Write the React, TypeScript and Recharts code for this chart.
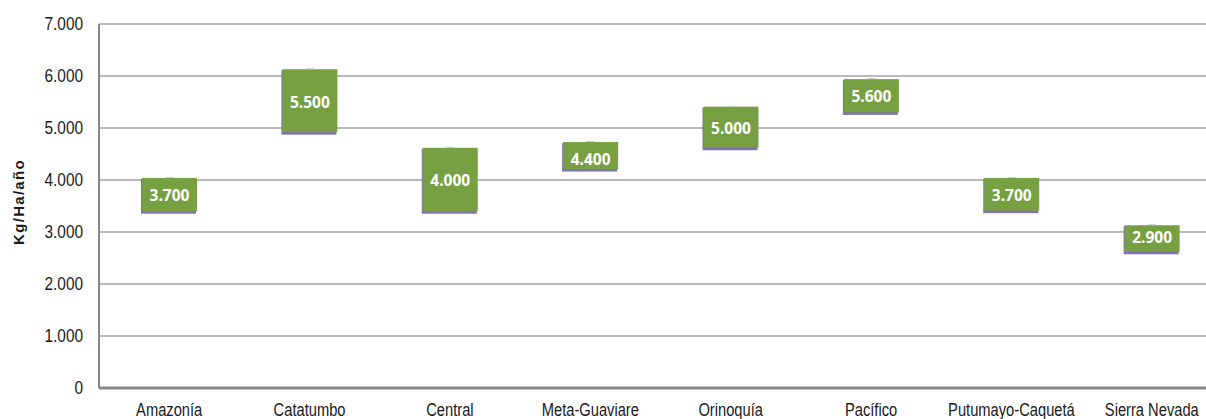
import React from "react";
import { BarChart, Bar, XAxis, YAxis, CartesianGrid } from "recharts";

const regions = [
  "Amazonía",
  "Catatumbo",
  "Central",
  "Meta-Guaviare",
  "Orinoquía",
  "Pacífico",
  "Putumayo-Caquetá",
  "Sierra Nevada",
];
const lowValues = [3400, 4920, 3400, 4210, 4620, 5300, 3410, 2620];
const highValues = [4040, 6130, 4620, 4730, 5410, 5940, 4040, 3130];
const labelValues = [3700, 5500, 4000, 4400, 5000, 5600, 3700, 2900];
const yTicks = [0, 1000, 2000, 3000, 4000, 5000, 6000, 7000];

const data = regions.map((r, i) => ({
  name: r,
  range: [lowValues[i], highValues[i]],
  label: labelValues[i],
  low: lowValues[i],
  high: highValues[i],
}));

const fmt = (v: number) =>
  v === 0 ? "0" : String(v).replace(/\B(?=(\d{3})+(?!\d))/g, ".");

const GREEN = "#77A043";
const PURPLE = "#6B5CA5";
const TICK_FONT = "'Liberation Sans', Arial, sans-serif";

const RangeShape = (props: any) => {
  const { x, y, width, height, payload } = props;
  if (height == null || width == null) return null;
  const { low, high, label } = payload;
  const ly = y + ((high - label) / (high - low)) * height;
  return (
    <g>
      <rect x={x - 1} y={y + 1} width={width} height={height + 1.5} fill={PURPLE} opacity={0.85} />
      <rect x={x} y={y} width={width} height={height} fill={GREEN} />
      <line x1={x + width / 2 - 4} x2={x + width / 2 + 4} y1={y - 0.5} y2={y - 0.5} stroke="#C8C8C8" strokeWidth={1} />
      <text
        x={x + width / 2}
        y={ly}
        dy="0.36em"
        textAnchor="middle"
        fill="#FFFFFF"
        fontFamily="'Open Sans', sans-serif"
        fontWeight={700}
        fontSize={15.5}
      >
        {fmt(label)}
      </text>
    </g>
  );
};

const XTick = (props: any) => {
  const { x, y, payload } = props;
  return (
    <text
      transform={`translate(${x},${y + 28}) scale(0.84,1)`}
      x={0}
      y={0}
      textAnchor="middle"
      fill="#1a1a1a"
      fontFamily={TICK_FONT}
      fontSize={17.5}
    >
      {payload.value}
    </text>
  );
};

const YTick = (props: any) => {
  const { x, y, payload } = props;
  return (
    <text
      transform={`translate(${x},${y}) scale(0.88,1)`}
      x={0}
      y={0}
      dy="0.36em"
      textAnchor="end"
      fill="#1a1a1a"
      fontFamily={TICK_FONT}
      fontSize={17.5}
    >
      {fmt(payload.value)}
    </text>
  );
};

export default function App() {
  return (
    <div
      style={{
        position: "absolute",
        left: 0,
        top: 0,
        width: 1206,
        height: 419,
        overflow: "hidden",
        background: "#fff",
      }}
    >
      <BarChart
        width={1222}
        height={419}
        data={data}
        margin={{ top: 24, right: 0, bottom: 0, left: 0 }}
        barSize={55}
      >
        <CartesianGrid vertical={false} stroke="#A3A3A3" strokeWidth={1.5} />
        <XAxis
          dataKey="name"
          height={31}
          tickLine={false}
          axisLine={{ stroke: "#868686", strokeWidth: 3 }}
          tickSize={0}
          tickMargin={0}
          interval={0}
          tick={<XTick />}
        />
        <YAxis
          width={99}
          domain={[0, 7000]}
          ticks={yTicks}
          interval={0}
          tickLine={false}
          tickSize={0}
          tickMargin={16}
          axisLine={{ stroke: "#868686", strokeWidth: 2 }}
          tick={<YTick />}
        />
        <Bar dataKey="range" isAnimationActive={false} shape={<RangeShape />} />
        <text
          x={18}
          y={202}
          transform="rotate(-90 18 202)"
          textAnchor="middle"
          dominantBaseline="central"
          fontFamily="'Liberation Sans', Arial, sans-serif"
          fontWeight={700}
          fontSize={15}
          letterSpacing={1.3}
          fill="#1a1a1a"
        >
          Kg/Ha/año
        </text>
      </BarChart>
    </div>
  );
}
